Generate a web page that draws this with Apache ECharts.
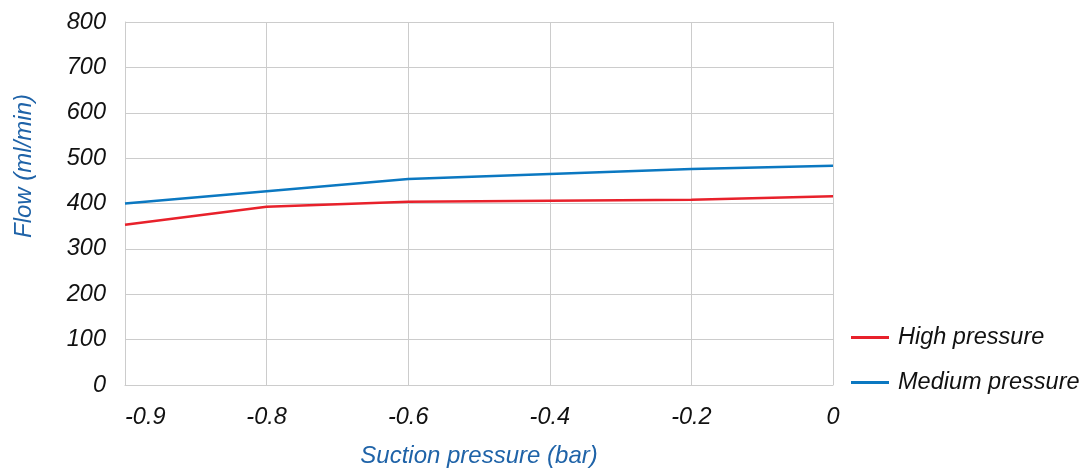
<!DOCTYPE html>
<html><head><meta charset="utf-8">
<script src="https://cdn.jsdelivr.net/npm/echarts@6/dist/echarts.min.js"></script>
<style>html,body{margin:0;padding:0;background:#fff}#c{width:1086px;height:468px}</style>
</head><body><div id="c"></div>
<script>
var categories = ['-0.9', '-0.8', '-0.6', '-0.4', '-0.2', '0'];
var highPressure = [353, 393, 404, 406, 408, 416];
var mediumPressure = [400, 427, 454, 465, 476, 483];
var yTicks = {min: 0, max: 800, interval: 100};
var font = '"Liberation Sans", Arial, sans-serif';
var fs = 23.5;
var chart = echarts.init(document.getElementById('c'));
chart.setOption({
  animation: false,
  grid: {left: 125, right: 253, top: 22, bottom: 83, outerBoundsMode: 'none', containLabel: false},
  legend: {
    orient: 'vertical', left: 851, top: 326, padding: 0, itemWidth: 38, itemHeight: 3, itemGap: 22,
    icon: 'rect',
    textStyle: {fontFamily: font, fontStyle: 'italic', fontSize: fs, color: '#111', padding: [0,0,0,4]},
    data: ['High pressure', 'Medium pressure']
  },
  graphic: [{
    type: 'text', rotation: Math.PI / 2, x: 12, y: 238,
    style: {text: 'Flow (ml/min)', fontFamily: font, fontStyle: 'italic', fontSize: 24, fill: '#1f63a8'}
  }],
  xAxis: {
    type: 'category', data: categories, boundaryGap: false,
    name: 'Suction pressure (bar)', nameLocation: 'middle', nameGap: 59,
    nameTextStyle: {fontFamily: font, fontStyle: 'italic', fontSize: 24, color: '#1f63a8'},
    axisLine: {lineStyle: {color: '#cccccc', width: 1}},
    axisTick: {show: false},
    axisLabel: {fontFamily: font, fontStyle: 'italic', fontSize: fs, color: '#111', margin: 21, alignMinLabel: 'left'},
    splitLine: {show: true, lineStyle: {color: '#cccccc', width: 1}}
  },
  yAxis: {
    type: 'value', min: yTicks.min, max: yTicks.max, interval: yTicks.interval,
    axisLine: {show: true, lineStyle: {color: '#cccccc', width: 1}},
    axisTick: {show: false},
    axisLabel: {fontFamily: font, fontStyle: 'italic', fontSize: fs, color: '#111', margin: 19},
    splitLine: {show: true, lineStyle: {color: '#cccccc', width: 1}}
  },
  series: [
    {name: 'High pressure', type: 'line', data: highPressure, symbol: 'none', color: '#e8212b', lineStyle: {width: 2.5}},
    {name: 'Medium pressure', type: 'line', data: mediumPressure, symbol: 'none', color: '#0b78c1', lineStyle: {width: 2.5}}
  ]
});
</script></body></html>
